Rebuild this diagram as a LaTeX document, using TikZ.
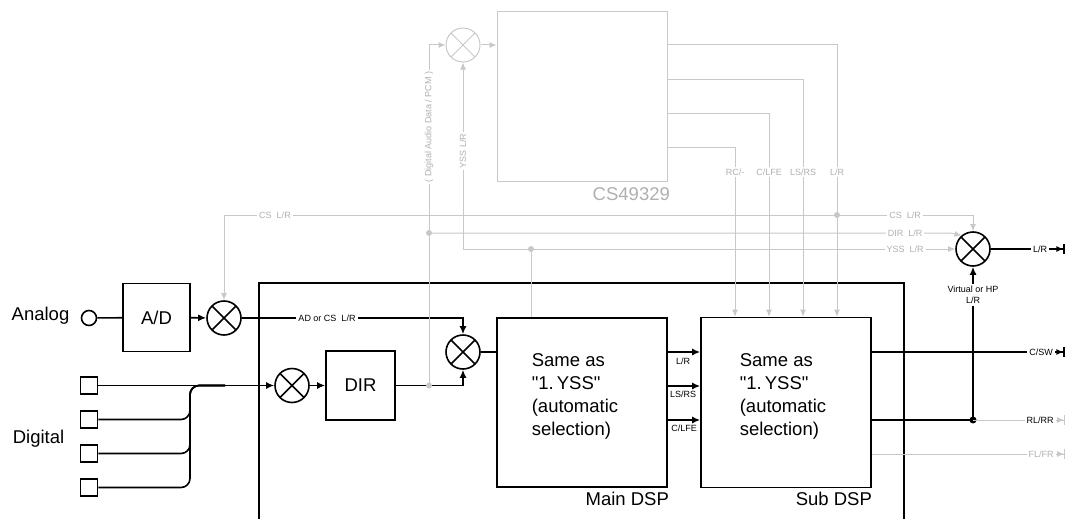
\documentclass[tikz,border=0pt]{standalone}
\usepackage{fontspec}
\setmainfont{Liberation Sans}[Ligatures=TeXOff]
\usetikzlibrary{arrows.meta}
\definecolor{faint}{HTML}{C8C8C8}
\definecolor{faintText}{HTML}{B0B0B0}
\tikzset{
  block/.style={draw, minimum width=170pt, minimum height=170pt, inner sep=0pt},
  mixer/.style={circle, draw=#1, minimum size=34pt, inner sep=0pt,
    path picture={\draw[#1] (path picture bounding box.south west) -- (path picture bounding box.north east)
      (path picture bounding box.north west) -- (path picture bounding box.south east);}},
  mixer/.default=black,
  port/.style={circle, draw, minimum size=15pt, inner sep=0pt},
  jack/.style={draw, minimum size=17pt, inner sep=0pt},
  tap/.style={circle, fill=#1, minimum size=6pt, inner sep=0pt},
  tap/.default=faint,
  gline/.style={draw=faint, line width=1pt, >={Latex[length=7pt,width=6pt]}},
  tag/.style={fill=white, inner sep=2pt, font=\fontsize{9}{11}\selectfont},
  gtag/.style={tag, text=faintText},
  outtip/.style={-{Latex[length=7pt,width=6pt]Bar[width=10pt]}},
}
\begin{document}
\begin{tikzpicture}[x=1pt, y=-1pt, line width=1.6pt, >={Latex[length=8pt,width=7pt]},
    font=\fontsize{18.5}{23}\selectfont]
  \useasboundingbox (0,0) rectangle (1067,519);

  % analog input
  \node[anchor=base] (analog) at (40.5,320) {Analog};
  \node[port] (ain) at (89,318) {};
  \node[block, minimum width=67pt, minimum height=68pt] (ad) at (156.5,317.5) {A/D};
  \node[mixer] (mxa) at (224,318) {};
  \draw (ain) -- (ad);
  \draw[->] (ad) -- (mxa);

  % digital inputs
  \node[anchor=base] (digital) at (38.5,443) {Digital};
  \node[jack] (d1) at (89,385.5) {};
  \node[jack] (d2) at (89,419.5) {};
  \node[jack] (d3) at (89,453.5) {};
  \node[jack] (d4) at (89,487.5) {};
  \node[mixer] (mxd) at (292,385.5) {};
  \coordinate (join) at (190,385.5);
  \coordinate (bus) at (225,385.5);
  \draw[->] (d1) -- (mxd);
  \draw[rounded corners=9pt] (d2) -| (join) -- (bus);
  \draw[rounded corners=9pt] (d3) -| (join) -- (bus);
  \draw[rounded corners=9pt] (d4) -| (join) -- (bus);

  % outer frame
  \draw (259,519) |- (904,283) -- (904,519);

  \node[block, minimum width=69pt, minimum height=69pt] (dir) at (360.5,385.5) {DIR};
  \node[mixer] (mxm) at (463,352) {};
  \draw[->] (mxd) -- (dir);
  \draw[->] (mxa) -| (mxm);
  \draw[->] (dir) -| (mxm);
  \node[tag] (adcs) at (327,318) {AD or CS\ \ L/R};

  % DSP blocks
  \node[block, minimum height=169.5pt] (main) at (582,402.5) {};
  \node[block] (sub) at (786,402.5) {};
  \node[anchor=base west, align=left, inner sep=0pt] (maintext) at (531,435) {Same as\\"1.\,YSS"\\(automatic\\selection)};
  \node[anchor=base west, align=left, inner sep=0pt] (subtext) at (739,435) {Same as\\"1.\,YSS"\\(automatic\\selection)};
  \node[anchor=base east] (mainname) at (673,505) {Main DSP};
  \node[anchor=base east] (subname) at (876,505) {Sub DSP};
  \draw (mxm) -- (main.west |- mxm);
  \draw[->] (main.east |- 0,352) -- (sub.west |- 0,352);
  \draw[->] (main.east |- 0,386) -- (sub.west |- 0,386);
  \draw[->] (main.east |- 0,420) -- (sub.west |- 0,420);
  \node[font=\fontsize{9}{11}\selectfont] (lr1) at (683,361) {L/R};
  \node[font=\fontsize{9}{11}\selectfont] (lsrs1) at (683,394) {LS/RS};
  \node[font=\fontsize{9}{11}\selectfont] (clfe1) at (684,428) {C/LFE};

  % CS49329 decoder (grey)
  \node[block, draw=faint, line width=1pt, minimum height=169pt] (cs) at (582,96.5) {};
  \node[anchor=base east, text=faintText] (csname) at (674,200) {CS49329};
  \node[mixer=faint, line width=1pt] (mxc) at (463,45) {};
  \draw[gline,->] (mxc) -- (mxc -| cs.west);

  \node[tap] (dtap) at (429,385.5) {};
  \node[tap] (dirsplit) at (429,233) {};
  \node[tap] (ysstap) at (531,249) {};
  \node[tap] (cstap) at (837,215) {};
  \coordinate (yssbend) at (463,249);
  \coordinate (dirbend) at (950,233);
  \draw[gline,->] (dtap.center) |- (mxc);
  \draw[gline,->] (yssbend) -- (mxc);
  \draw[gline] (ysstap.center) -- (main.north -| ysstap);
  \node[gtag, rotate=90] (pcm) at (429,127) {( Digital Audio Data / PCM )};
  \node[gtag, rotate=90] (yssup) at (463,151) {YSS L/R};

  % decoder outputs into sub DSP
  \draw[gline,->] (cs.east |- 0,45) -| (sub.north -| 837,0);
  \draw[gline,->] (cs.east |- 0,79) -| (sub.north -| 803,0);
  \draw[gline,->] (cs.east |- 0,113) -| (sub.north -| 769,0);
  \draw[gline,->] (cs.east |- 0,147) -| (sub.north -| 735,0);
  \node[gtag] (rc) at (735,172) {RC/-};
  \node[gtag] (clfe2) at (769,172) {C/LFE};
  \node[gtag] (lsrs2) at (803,172) {LS/RS};
  \node[gtag] (lr2) at (837,172) {L/R};

  % output mixer
  \node[mixer] (mxo) at (973,249) {};
  \draw[gline,->] (cstap.center) -| (mxa);
  \draw[gline,->] (cstap.center) -| (mxo);
  \draw[gline,->] (dirsplit.center) -- (dirbend) -- (mxo.130);
  \draw[gline,->] (yssbend) -- (mxo);
  \node[gtag] (csl) at (275,215) {CS\ \ L/R};
  \node[gtag] (csr) at (905,215) {CS\ \ L/R};
  \node[gtag] (dirr) at (905,233) {DIR\ \ L/R};
  \node[gtag] (yssr) at (905,249) {YSS\ \ L/R};

  % outputs
  \coordinate (olr) at (1065,249);
  \coordinate (ocsw) at (1065,352);
  \coordinate (orl) at (1065,420);
  \coordinate (ofl) at (1065,454);
  \node[tap=black, minimum size=7pt] (hpdot) at (973,420) {};
  \draw[outtip] (mxo) -- (olr);
  \draw[outtip] (sub.east |- ocsw) -- (ocsw);
  \draw (sub.east |- hpdot) -- (hpdot.center);
  \draw[gline, outtip] (hpdot.center) -- (orl);
  \draw[gline, outtip] (sub.east |- ofl) -- (ofl);
  \draw[->] (hpdot.center) -- (mxo);
  \node[tag, align=center, font=\fontsize{9}{11}\selectfont] (hp) at (973,295) {Virtual or HP\\L/R};
  \node[tag] (lrout) at (1040,249) {L/R};
  \node[tag] (csw) at (1041,352) {C/SW};
  \node[tag] (rlrr) at (1040,420) {RL/RR};
  \node[gtag] (flfr) at (1041,454) {FL/FR};
\end{tikzpicture}
\end{document}
